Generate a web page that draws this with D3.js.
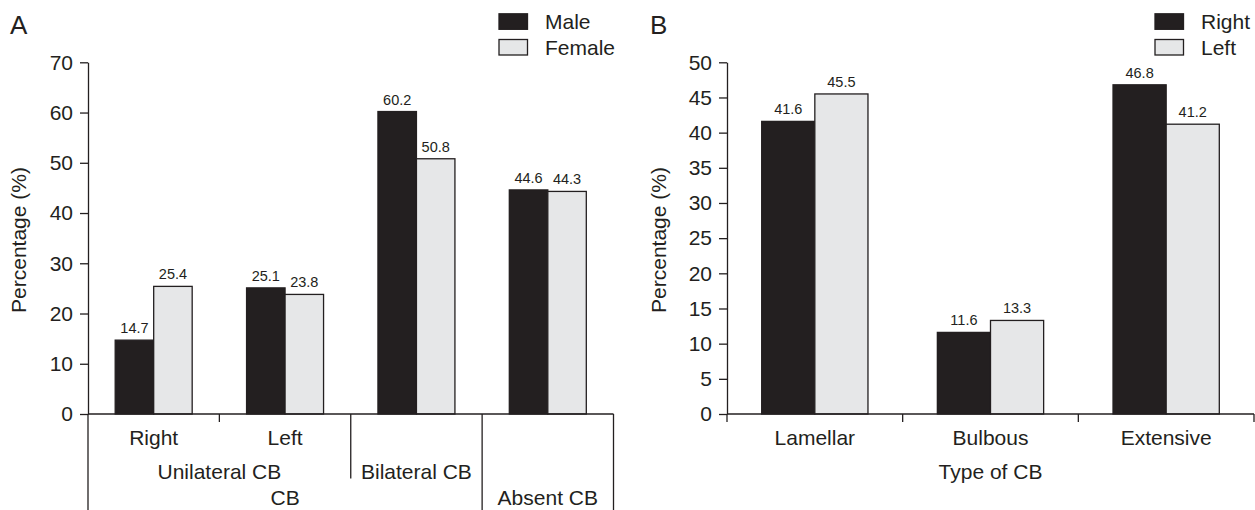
<!DOCTYPE html>
<html>
<head>
<meta charset="utf-8">
<script src="https://cdn.jsdelivr.net/npm/d3@7"></script>
<style>
  html, body { margin: 0; padding: 0; background: #fff; }
  svg { display: block; }
  text { font-family: "Liberation Sans", Arial, Helvetica, sans-serif; fill: #231f20; }
</style>
</head>
<body>
<svg id="chart" width="1255" height="510"></svg>
<script>
// === DATA ===
const groupsA = ["Right", "Left", "Bilateral CB", "Absent CB"];
const seriesA = ["Male", "Female"];
const maleA = [14.7, 25.1, 60.2, 44.6];
const femaleA = [25.4, 23.8, 50.8, 44.3];
const ticksA = [0, 10, 20, 30, 40, 50, 60, 70];
// hierarchical category labels under panel A (rows top to bottom)
const levelsA = [
  [{ label: "Right", from: 0, to: 0 }, { label: "Left", from: 1, to: 1 }],
  [{ label: "Unilateral CB", from: 0, to: 1 }, { label: "Bilateral CB", from: 2, to: 2 }],
  [{ label: "CB", from: 0, to: 2 }, { label: "Absent CB", from: 3, to: 3 }]
];

const groupsB = ["Lamellar", "Bulbous", "Extensive"];
const seriesB = ["Right", "Left"];
const rightB = [41.6, 11.6, 46.8];
const leftB = [45.5, 13.3, 41.2];
const ticksB = [0, 5, 10, 15, 20, 25, 30, 35, 40, 45, 50];

const ink = "#231f20";
const fills = ["#231f20", "#e6e7e8"];

const svg = d3.select("#chart");
svg.append("rect").attr("width", 1255).attr("height", 510).attr("fill", "#fff");

const y0 = 414, yTop = 62.3;
const rowBase = [445, 478.5, 505];

function panel(opts) {
  const g = svg.append("g");
  const x = d3.scaleBand()
    .domain(opts.groups)
    .range(opts.xRange)
    .paddingInner(opts.pad)
    .paddingOuter(opts.pad / 2);
  const xs = d3.scaleBand()
    .domain(opts.series)
    .range([0, x.bandwidth()]);
  const y = d3.scaleLinear().domain(opts.yDomain).range([y0, yTop]);

  // panel letter
  g.append("text")
    .attr("x", opts.letterX).attr("y", 33.5)
    .style("font-size", "26px")
    .text(opts.letter);

  // y axis
  const ya = g.append("g")
    .attr("transform", `translate(${opts.xRange[0]},0)`)
    .call(d3.axisLeft(y).tickValues(opts.ticks).tickSize(8).tickSizeOuter(0).tickPadding(7));
  ya.selectAll("path, line").attr("stroke", ink).attr("stroke-width", 1.3);
  ya.selectAll("text")
    .style("font-size", "21px")
    .style("font-family", "'Liberation Sans', Arial, sans-serif")
    .attr("fill", ink);

  g.append("text")
    .attr("transform", `translate(${opts.labelX},240) rotate(-90)`)
    .attr("text-anchor", "middle")
    .style("font-size", "21px")
    .text("Percentage (%)");

  // bars
  opts.values.forEach((vals, si) => {
    g.selectAll(null)
      .data(opts.groups)
      .join("rect")
      .attr("x", d => x(d) + xs(opts.series[si]))
      .attr("y", (d, i) => y(vals[i]))
      .attr("width", xs.bandwidth())
      .attr("height", (d, i) => y0 - y(vals[i]))
      .attr("fill", fills[si])
      .attr("stroke", ink)
      .attr("stroke-width", 1.3);

    g.selectAll(null)
      .data(opts.groups)
      .join("text")
      .attr("x", d => x(d) + xs(opts.series[si]) + xs.bandwidth() / 2)
      .attr("y", (d, i) => y(vals[i]) - 7)
      .attr("text-anchor", "middle")
      .style("font-size", "14.5px")
      .text((d, i) => vals[i].toFixed(1));
  });

  // x axis line
  g.append("line")
    .attr("x1", opts.xRange[0]).attr("x2", opts.xRange[1])
    .attr("y1", y0).attr("y2", y0)
    .attr("stroke", ink).attr("stroke-width", 1.3);

  // legend
  const lg = g.append("g");
  opts.series.forEach((s, i) => {
    lg.append("rect")
      .attr("x", opts.legendX).attr("y", 13.8 + i * 25.7)
      .attr("width", 28.5).attr("height", 15.5)
      .attr("fill", fills[i]).attr("stroke", ink).attr("stroke-width", 1.3);
    lg.append("text")
      .attr("x", opts.legendX + 46).attr("y", 29.2 + i * 25.7)
      .style("font-size", "21px")
      .text(s);
  });

  return { g, x, y };
}

// === PANEL A ===
const A = panel({
  letter: "A", letterX: 10, labelX: 26,
  groups: groupsA, series: seriesA, values: [maleA, femaleA],
  xRange: [88, 613.5], pad: 0.414, yDomain: [0, 70], ticks: ticksA,
  legendX: 499
});

// separators: depth = number of label rows (from the top) in which no cell spans the boundary
const stepA = A.x.step();
const x0A = A.x.range()[0];
for (let b = 0; b <= groupsA.length; b++) {
  let depth = 0;
  for (const row of levelsA) {
    const spanned = row.some(c => c.from < b && c.to >= b);
    if (spanned) break;
    depth++;
  }
  const yEnd = depth >= levelsA.length ? 520 : depth <= 1 ? y0 + 8 : rowBase[depth - 1];
  A.g.append("line")
    .attr("x1", x0A + b * stepA).attr("x2", x0A + b * stepA)
    .attr("y1", y0).attr("y2", yEnd)
    .attr("stroke", ink).attr("stroke-width", 1.3);
}
levelsA.forEach((row, r) => {
  A.g.selectAll(null)
    .data(row)
    .join("text")
    .attr("x", d => x0A + (d.from + d.to + 1) / 2 * stepA)
    .attr("y", rowBase[r])
    .attr("text-anchor", "middle")
    .style("font-size", "21px")
    .text(d => d.label);
});

// === PANEL B ===
const B = panel({
  letter: "B", letterX: 650, labelX: 666,
  groups: groupsB, series: seriesB, values: [rightB, leftB],
  xRange: [727, 1254], pad: 0.395, yDomain: [0, 50], ticks: ticksB,
  legendX: 1155
});

const stepB = B.x.step();
const x0B = B.x.range()[0];
for (let b = 0; b <= groupsB.length; b++) {
  B.g.append("line")
    .attr("x1", x0B + b * stepB).attr("x2", x0B + b * stepB)
    .attr("y1", y0).attr("y2", y0 + 8)
    .attr("stroke", ink).attr("stroke-width", 1.3);
}
B.g.selectAll(null)
  .data(groupsB)
  .join("text")
  .attr("x", d => B.x(d) + B.x.bandwidth() / 2)
  .attr("y", rowBase[0])
  .attr("text-anchor", "middle")
  .style("font-size", "21px")
  .text(d => d);
B.g.append("text")
  .attr("x", (B.x.range()[0] + B.x.range()[1]) / 2)
  .attr("y", rowBase[1])
  .attr("text-anchor", "middle")
  .style("font-size", "21px")
  .text("Type of CB");
</script>
</body>
</html>
